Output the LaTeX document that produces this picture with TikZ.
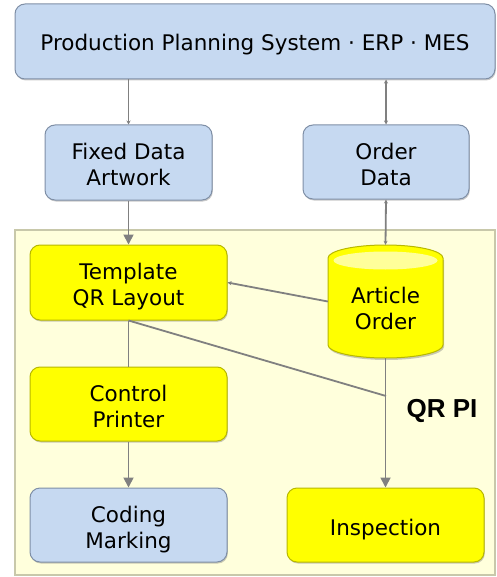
\documentclass[tikz,border=0pt]{standalone}
\usepackage{fontspec}
\setmainfont{DejaVu Sans}
\newfontfamily\qrfont{Liberation Sans}
\usetikzlibrary{arrows.meta,shadows}
\definecolor{boxblue}{HTML}{C6D9F1}
\definecolor{blueedge}{HTML}{7F8FA6}
\definecolor{boxyellow}{HTML}{FFFF00}
\definecolor{yellowedge}{HTML}{B8B800}
\definecolor{bgyellow}{HTML}{FFFFDC}
\definecolor{bgedge}{HTML}{C8C8AA}
\definecolor{linegray}{HTML}{808080}
\definecolor{cyltop}{HTML}{FFFF9A}
\newcommand{\lowered}[1]{\raisebox{-5pt}[\height][\depth]{#1}}
\newcommand{\twolines}[2]{\lowered{\begin{tabular}{@{}c@{}}#1\\#2\end{tabular}}}
\begin{document}
\begin{tikzpicture}[x=1pt,y=-1pt,
  base/.style={rounded corners=10pt, line width=1pt, align=center, inner sep=0pt,
    font=\fontsize{21.5}{26}\selectfont,
    drop shadow={shadow xshift=0.8pt, shadow yshift=-1.5pt, opacity=0.35, fill=black!60}},
  bluebox/.style={base, fill=boxblue, draw=blueedge},
  yellowbox/.style={base, fill=boxyellow, draw=yellowedge},
  conn/.style={draw=linegray, line width=1.8pt},
  bigtip/.style={-{Triangle[length=10pt,width=10pt]}},
  smalltip/.style={{Stealth[length=4pt,width=4pt]}-{Stealth[length=4pt,width=4pt]}},
  smallend/.style={-{Stealth[length=4pt,width=4pt]}},
  smallstart/.style={{Stealth[length=4pt,width=4pt]}-},
]
\useasboundingbox (0,0) rectangle (496,577);
% background region
\node[draw=bgedge, fill=bgyellow, line width=1.2pt, minimum width=480pt, minimum height=345pt, inner sep=0pt] (bg) at (255,402.5) {};

\node[bluebox, minimum width=480pt, minimum height=75pt] (pps) at (255,41.5) {\raisebox{-3.5pt}[\height][\depth]{Production Planning System · ERP · MES}};
\node[bluebox, minimum width=167pt, minimum height=75pt] (fixed) at (128.5,162.5) {\twolines{Fixed Data}{Artwork}};
\node[bluebox, minimum width=166pt, minimum height=74pt] (order) at (386,162) {\twolines{Order}{Data}};
\node[yellowbox, minimum width=197pt, minimum height=75pt] (tmpl) at (128.5,282.5) {\twolines{Template}{QR Layout}};
\node[yellowbox, minimum width=197pt, minimum height=74pt] (ctrl) at (128.5,404) {\twolines{Control}{Printer}};
\node[bluebox, minimum width=197pt, minimum height=74pt] (coding) at (128.5,525) {\twolines{Coding}{Marking}};
\node[yellowbox, minimum width=197pt, minimum height=74pt] (insp) at (385.5,525) {\lowered{Inspection}};

% cylinder
\node[minimum width=115pt, minimum height=113pt, inner sep=0pt] (art) at (385.5,301.5) {};
\fill[black!60, opacity=0.35] (329,260) -- (329,347) arc[start angle=180,end angle=360,x radius=57.5,y radius=-13] -- (444,260) -- cycle;
\draw[fill=boxyellow, draw=yellowedge, line width=1pt]
  (328,258) -- (328,345) arc[start angle=180,end angle=360,x radius=57.5,y radius=-13]
  -- (443,258) arc[start angle=0,end angle=180,x radius=57.5,y radius=-13] -- cycle;
\fill[cyltop] (385.5,260.5) ellipse[x radius=52, y radius=9];
\node[font=\fontsize{21.5}{26}\selectfont, inner sep=0pt] (arttext) at (385.5,308) {\raisebox{-3pt}[\height][\depth]{\begin{tabular}{@{}c@{}}Article\\Order\end{tabular}}};

% connectors
\draw[conn, smallend] (pps.south -| fixed.north) -- (fixed.north);
\draw[conn, smalltip] (pps.south -| order.north) -- (order.north);
\draw[conn, bigtip] (fixed.south) -- (tmpl.north);
\draw[conn, smalltip] (order.south) -- (art.north);
\draw[conn, smallstart] (tmpl.east) -- (art.west);
\coordinate (junc) at (386,396);
\draw[conn] (tmpl.south) -- (ctrl.north);
\draw[conn] (tmpl.south) -- (junc);
\draw[conn, bigtip] (art.south) -- (insp.north);
\draw[conn, bigtip] (ctrl.south) -- (coding.north);

\node[font=\qrfont\bfseries\fontsize{26}{30}\selectfont, inner sep=0pt] (qrpi) at (442,411) {QR PI};
\end{tikzpicture}
\end{document}
